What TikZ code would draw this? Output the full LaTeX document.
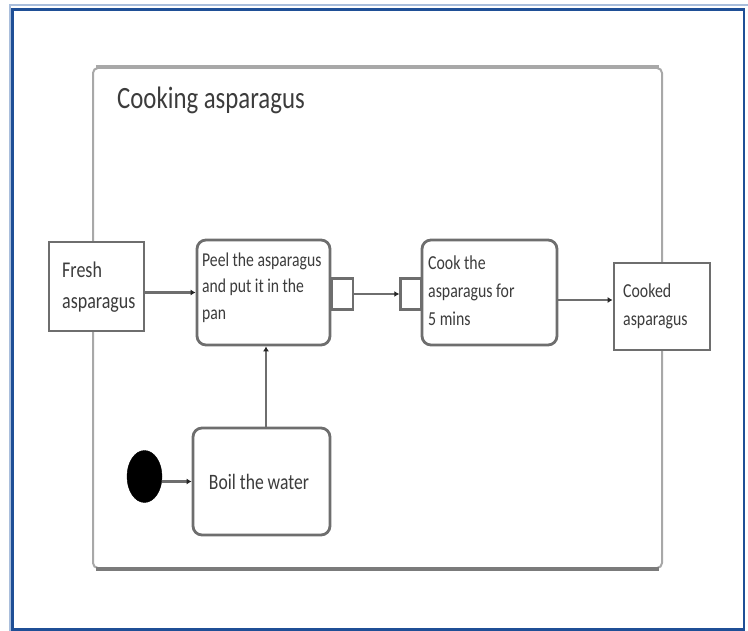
\documentclass[tikz,border=0pt]{standalone}
\usepackage{fontspec}
\setmainfont{Carlito}
\newfontfamily\narrowfont[FakeStretch=0.8]{Carlito}
\usetikzlibrary{arrows.meta,shapes.geometric}
\definecolor{frameblue}{HTML}{1F4F96}
\definecolor{framelight}{HTML}{A9BEDC}
\definecolor{edgegray}{HTML}{6E6E6E}
\definecolor{regiongray}{HTML}{A8A8A8}
\definecolor{regionshade}{HTML}{7B7B7B}
\definecolor{txtgray}{HTML}{3C3C3C}
\begin{document}
\begin{tikzpicture}[x=1pt,y=-1pt,
  objbox/.style={draw=edgegray, line width=2.8pt, fill=white, inner sep=0pt},
  actbox/.style={objbox, rounded corners=9pt},
  pinbox/.style={objbox, line width=2.4pt},
  flow/.style={draw=edgegray, line width=2.4pt, -{Latex[length=5pt,width=6pt,color=black!85]}},
  lbl/.style={inner sep=0pt, text=txtgray, align=left, anchor=base west}
]
\useasboundingbox (0,0) rectangle (748,631);

% page frame
\draw[framelight, line width=2pt] (9.5,631) -- (9.5,5.5) -- (748,5.5);
\draw[frameblue, line width=2.8pt] (12.5,9.5) rectangle (744,629.5);

% activity region
\node[draw=regiongray, line width=2pt, rounded corners=5pt, inner sep=0pt,
      minimum width=569, minimum height=500] (region) at (377.5,318) {};
\draw[regiongray, line width=3.5pt] ([xshift=4pt]region.north west) -- ([xshift=-4pt]region.north east);
\draw[regionshade, line width=3.5pt] ([xshift=4pt]region.south west) -- ([xshift=-4pt]region.south east);
\node[lbl, font={\narrowfont\fontsize{31}{31}\selectfont}] (title) at (117,109) {Cooking asparagus};

% object nodes and actions
\node[objbox, minimum width=95, minimum height=89] (fresh) at (96.5,286.5) {};
\node[actbox, minimum width=133, minimum height=105] (peel) at (263.5,292.5) {};
\node[pinbox, minimum width=21, minimum height=31] (pinout) at (342.5,294) {};
\node[pinbox, minimum width=21, minimum height=31] (pinin) at (411,294) {};
\node[actbox, minimum width=135, minimum height=105] (cook) at (489.5,292.5) {};
\node[objbox, minimum width=96, minimum height=87] (cooked) at (662,306.5) {};
\node[actbox, minimum width=137, minimum height=107] (boil) at (261.5,481.5) {};
\node[ellipse, draw=black, fill=black, inner sep=0pt,
      minimum width=35, minimum height=52] (start) at (144.5,476.5) {};

% labels (anchored at the baseline of their last line)
\node[lbl, font={\narrowfont\fontsize{22.5}{32}\selectfont}] (freshtxt) at (62,309) {Fresh\\asparagus};
\node[lbl, font={\narrowfont\fontsize{19.6}{27}\selectfont}] (peeltxt) at (202,320) {Peel the asparagus\\and put it in the\\pan};
\node[lbl, font={\narrowfont\fontsize{19.8}{28}\selectfont}] (cooktxt) at (428,326) {Cook the\\asparagus for\\5 mins};
\node[lbl, font={\narrowfont\fontsize{19.8}{28}\selectfont}] (cookedtxt) at (623,326) {Cooked\\asparagus};
\node[inner sep=0pt, text=txtgray, font={\narrowfont\fontsize{22}{22}\selectfont}] (boiltxt) at (259,482) {Boil the water};

% flows
\coordinate (cookout) at (557,300);
\draw[flow] (fresh.east |- peel.west) -- (peel.west);
\draw[flow] (pinout.east) -- (pinin.west);
\draw[flow] (cookout) -- (cookout -| cooked.west);
\draw[flow] ([xshift=4.5pt]boil.north) -- ([xshift=4.5pt]boil.north |- peel.south);
\draw[flow] (start.east |- boil.west) -- (boil.west);
\end{tikzpicture}
\end{document}
